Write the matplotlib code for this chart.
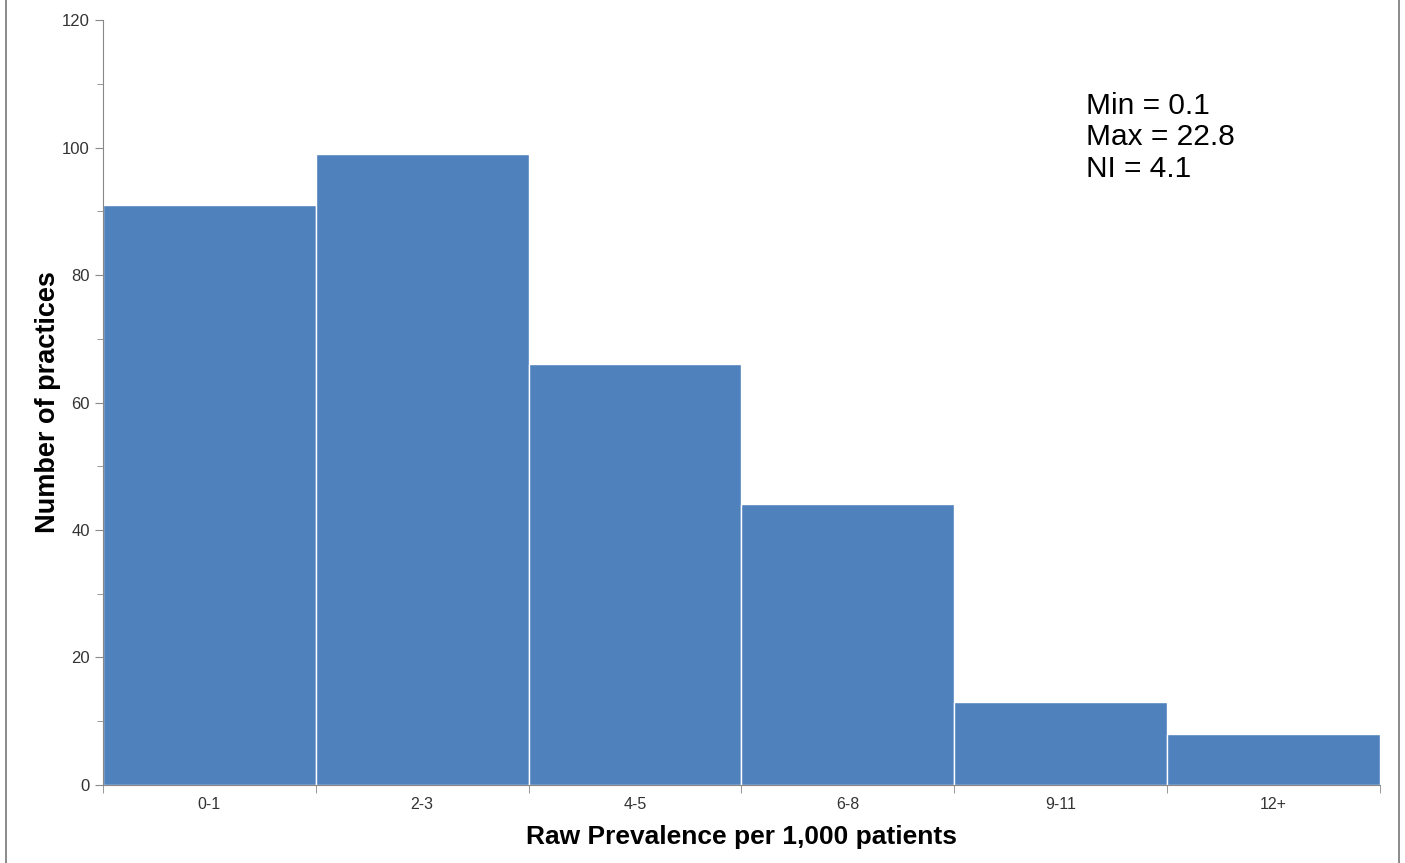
import matplotlib.pyplot as plt
from matplotlib.lines import Line2D
from matplotlib.ticker import MultipleLocator

plt.rcParams['font.family'] = ['Liberation Sans', 'DejaVu Sans']

categories = ['0-1', '2-3', '4-5', '6-8', '9-11', '12+']
practices = [91, 99, 66, 44, 13, 8]
stats_lines = ['Min = 0.1', 'Max = 22.8', 'NI = 4.1']

fig = plt.figure(figsize=(14.05, 8.63), dpi=100)
ax = fig.add_axes([0.0733, 0.0904, 0.9087, 0.8864])

x = range(len(categories))
ax.bar(x, practices, width=1.0, color='#4F81BD', edgecolor='white', linewidth=1)

ax.set_xlim(-0.5, len(categories) - 0.5)
ax.set_ylim(0, 120)
ax.set_xticks(list(x))
ax.set_xticklabels(categories)
ax.set_xticks([i - 0.5 for i in range(len(categories) + 1)], minor=True)
ax.tick_params(axis='x', which='major', length=0, pad=9, labelsize=11.5, labelcolor='#333333')
ax.tick_params(axis='x', which='minor', length=6, color='#888888', direction='out')
ax.yaxis.set_major_locator(MultipleLocator(20))
ax.yaxis.set_minor_locator(MultipleLocator(10))
ax.tick_params(axis='y', which='major', length=6, color='#888888', labelsize=12, labelcolor='#333333')
ax.tick_params(axis='y', which='minor', length=4, color='#888888')

for side in ['top', 'right']:
    ax.spines[side].set_visible(False)
for side in ['left', 'bottom']:
    ax.spines[side].set_color('#888888')

ax.set_ylabel('Number of practices', fontsize=19.5, fontweight='bold', labelpad=1)
ax.set_xlabel('Raw Prevalence per 1,000 patients', fontsize=19, fontweight='bold', labelpad=9)

ax.text(0.77, 0.906, '\n'.join(stats_lines), transform=ax.transAxes, fontsize=21.5,
        va='top', ha='left', linespacing=1.15)

# frame edges around the picture
fig.add_artist(Line2D([0.004, 0.004], [0, 1], transform=fig.transFigure, color='#777777', lw=1.2))
fig.add_artist(Line2D([0.996, 0.996], [0, 1], transform=fig.transFigure, color='#777777', lw=1.2))

fig.savefig('out.png', dpi=100)
